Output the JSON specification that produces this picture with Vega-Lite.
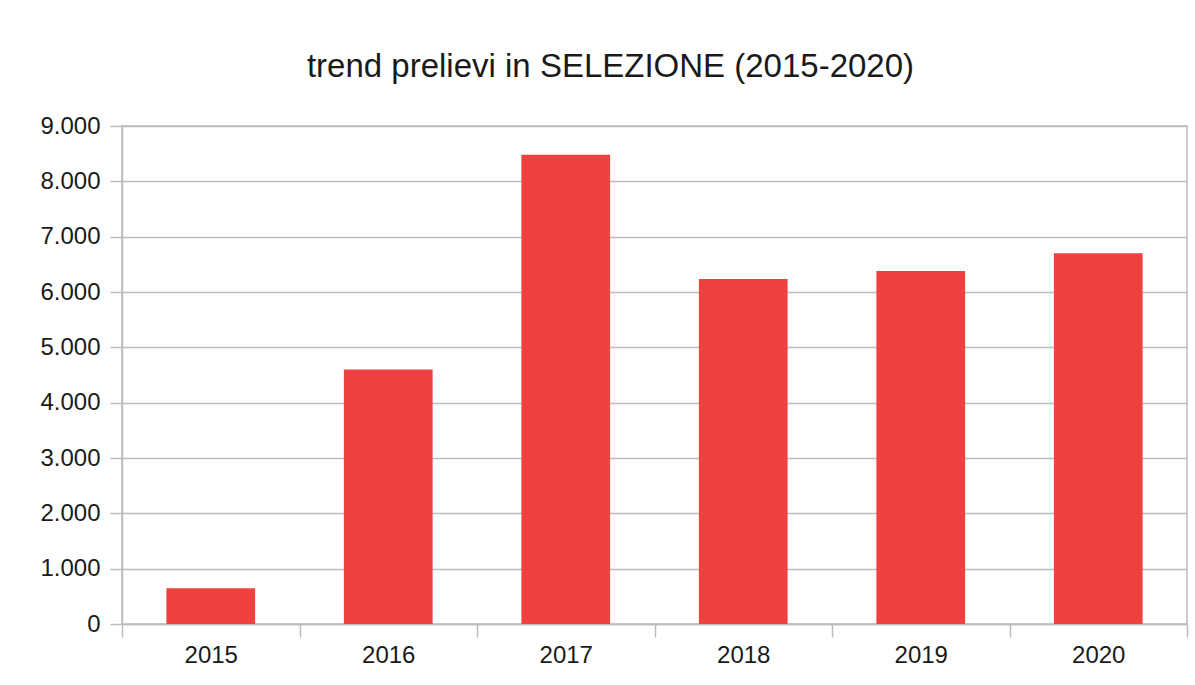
{
  "$schema": "https://vega.github.io/schema/vega-lite/v6.json",
  "width": 1065,
  "height": 498,
  "autosize": {"type": "none"},
  "padding": {"left": 122, "top": 126, "right": 8, "bottom": 61},
  "background": "white",
  "title": {
    "text": "trend prelievi in SELEZIONE (2015-2020)",
    "anchor": "middle",
    "dx": -44,
    "offset": 30,
    "font": "Liberation Sans",
    "fontSize": 33,
    "fontWeight": "normal",
    "color": "#1a1a1a"
  },
  "data": {
    "values": [
      {"anno": "2015", "prelievi": 645},
      {"anno": "2016", "prelievi": 4600},
      {"anno": "2017", "prelievi": 8480},
      {"anno": "2018", "prelievi": 6235},
      {"anno": "2019", "prelievi": 6380},
      {"anno": "2020", "prelievi": 6700}
    ]
  },
  "mark": {"type": "bar", "color": "#ef4140", "width": {"band": 0.5}},
  "encoding": {
    "x": {
      "field": "anno",
      "type": "ordinal",
      "scale": {"paddingInner": 0, "paddingOuter": 0},
      "axis": {
        "title": null,
        "labelAngle": 0,
        "tickBand": "extent",
        "tickSize": 13,
        "tickWidth": 1.5,
        "tickColor": "#bdbdbd",
        "domainColor": "#bdbdbd",
        "domainWidth": 1.5,
        "labelFont": "Liberation Sans",
        "labelFontSize": 24,
        "labelColor": "#1a1a1a",
        "labelPadding": 6,
        "grid": false
      }
    },
    "y": {
      "field": "prelievi",
      "type": "quantitative",
      "scale": {"domain": [0, 9000], "nice": false},
      "axis": {
        "title": null,
        "values": [0, 1000, 2000, 3000, 4000, 5000, 6000, 7000, 8000, 9000],
        "format": ",d",
        "tickSize": 12,
        "tickWidth": 1.5,
        "tickColor": "#bdbdbd",
        "domainColor": "#bdbdbd",
        "domainWidth": 1.5,
        "gridColor": "#bdbdbd",
        "gridWidth": 1.5,
        "gridOpacity": 1,
        "labelFont": "Liberation Sans",
        "labelFontSize": 24,
        "labelColor": "#1a1a1a",
        "labelPadding": 10
      }
    }
  },
  "config": {
    "locale": {
      "number": {"decimal": ",", "thousands": ".", "grouping": [3], "currency": ["€", ""]}
    },
    "view": {"stroke": "#bdbdbd", "strokeWidth": 1.5}
  }
}
